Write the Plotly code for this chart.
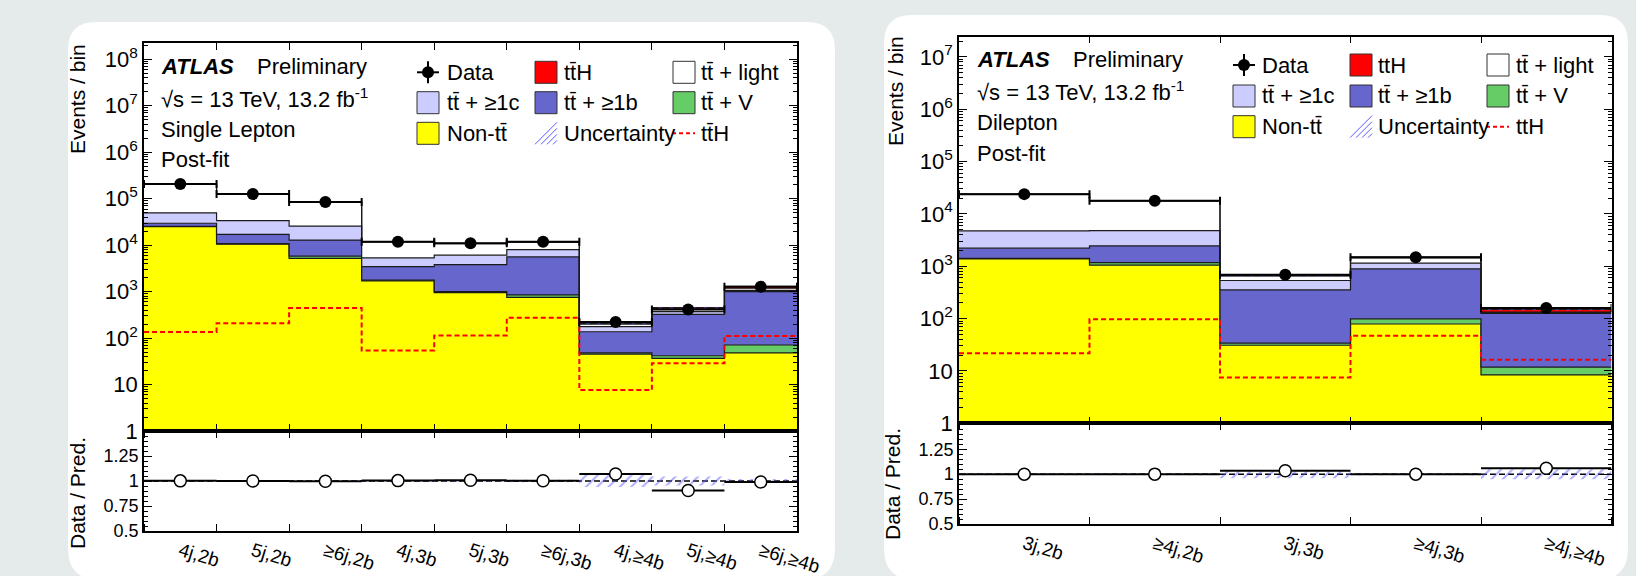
import plotly.graph_objects as go

W, H = 1636, 576

# ---------------- data: single lepton (left) ----------------
sl_bins = ["4j,2b", "5j,2b", "≥6j,2b", "4j,3b", "5j,3b", "≥6j,3b", "4j,≥4b", "5j,≥4b", "≥6j,≥4b"]
sl_data = [207000, 126000, 85000, 11900, 11000, 11900, 222, 410, 1280]
sl_nontt = [25000, 10500, 5200, 1700, 950, 750, 45, 36.7, 48]
sl_ttv = [300, 300, 600, 60, 50, 100, 3, 5, 23]
sl_ttb = [4300, 6200, 7100, 1690, 2800, 4750, 89, 283, 930]
sl_ttc = [20000, 16700, 12800, 1850, 2300, 2400, 39, 45, 60]
sl_ttlight = [157000, 92000, 59000, 6500, 4700, 3600, 24, 55, 120]
sl_tth = [135, 208, 443, 54, 114, 275, 7.6, 28.6, 111]
sl_unc = [0.005, 0.005, 0.006, 0.01, 0.01, 0.012, 0.06, 0.045, 0.02]

# ---------------- data: dilepton (right) ----------------
dl_bins = ["3j,2b", "≥4j,2b", "3j,3b", "≥4j,3b", "≥4j,≥4b"]
dl_data = [23900, 17800, 686, 1490, 159]
dl_nontt = [1380, 1050, 31, 79, 8.4]
dl_ttv = [30, 120, 3, 20, 3.4]
dl_ttb = [810, 1280, 321, 791, 114]
dl_ttc = [2530, 2350, 180, 260, 4]
dl_ttlight = [19130, 12900, 121, 293, 4]
dl_tth = [21.8, 97, 7.5, 47, 16.3]
dl_unc = [0.01, 0.01, 0.04, 0.012, 0.05]

C_NONTT = "#ffff00"
C_TTV = "#66cc66"
C_TTB = "#6666cc"
C_TTC = "#ccccff"
C_LIGHT = "#ffffff"
C_TTH = "#ff0000"
C_UNC = "#5a5aff"
BG = "#e4ebea"
FONT = "Liberation Sans, Arial, sans-serif"
TT = "tt\u0304"


def X(px):
    return px / W


def Y(py):
    return 1 - py / H


fig = go.Figure()


def step(v):
    v = list(v)
    return v + [v[-1]]


HATCH = dict(shape="/", fgcolor=C_UNC, bgcolor="rgba(0,0,0,0)", size=8, solidity=0.25)


def add_panel(bins, data, comps, tth, unc, xa, ya, xr, yr):
    n = len(bins)
    edges = list(range(n + 1))
    centers = [i + 0.5 for i in range(n)]
    common = dict(xaxis=xa, yaxis=ya, showlegend=False, hoverinfo="skip")
    fig.add_trace(go.Scatter(x=edges, y=[1] * (n + 1), mode="lines",
                             line=dict(width=0, shape="hv"), **common))
    cum = [0.0] * n
    for comp, col in zip(comps + [tth], [C_NONTT, C_TTV, C_TTB, C_TTC, C_LIGHT, C_TTH]):
        cum = [c + v for c, v in zip(cum, comp)]
        fig.add_trace(go.Scatter(x=edges, y=step(cum), mode="lines",
                                 line=dict(color="#1a1a1a", width=1.2, shape="hv"),
                                 fill="tonexty", fillcolor=col, **common))
    total = cum
    lo = [t * (1 - u) for t, u in zip(total, unc)]
    hi = [t * (1 + u) for t, u in zip(total, unc)]
    fig.add_trace(go.Scatter(x=edges, y=step(lo), mode="lines",
                             line=dict(width=0, shape="hv"), **common))
    fig.add_trace(go.Scatter(x=edges, y=step(hi), mode="lines",
                             line=dict(width=0, shape="hv"), fill="tonexty",
                             fillcolor="rgba(0,0,0,0)", fillpattern=HATCH, **common))
    fig.add_trace(go.Scatter(x=edges, y=step(tth), mode="lines",
                             line=dict(color="#ff0000", width=2, dash="5px,3px", shape="hv"),
                             **common))
    fig.add_trace(go.Scatter(x=centers, y=data, mode="markers",
                             marker=dict(color="black", size=12),
                             error_x=dict(type="constant", value=0.5, color="black",
                                          thickness=2, width=4),
                             **common))
    rc = dict(xaxis=xr, yaxis=yr, showlegend=False, hoverinfo="skip")
    fig.add_trace(go.Scatter(x=[edges[0], edges[-1]], y=[1, 1], mode="lines",
                             line=dict(color="black", width=1.5, dash="6px,3px"), **rc))
    fig.add_trace(go.Scatter(x=edges, y=step([1 - u for u in unc]), mode="lines",
                             line=dict(width=0, shape="hv"), **rc))
    fig.add_trace(go.Scatter(x=edges, y=step([1 + u for u in unc]), mode="lines",
                             line=dict(width=0, shape="hv"), fill="tonexty",
                             fillcolor="rgba(0,0,0,0)", fillpattern=HATCH, **rc))
    ratio = [d / t for d, t in zip(data, total)]
    fig.add_trace(go.Scatter(x=centers, y=ratio, mode="markers",
                             marker=dict(color="white", size=12, line=dict(color="black", width=1.5)),
                             error_x=dict(type="constant", value=0.5, color="black",
                                          thickness=2, width=0),
                             **rc))


add_panel(sl_bins, sl_data, [sl_nontt, sl_ttv, sl_ttb, sl_ttc, sl_ttlight], sl_tth, sl_unc,
          "x", "y", "x2", "y2")
add_panel(dl_bins, dl_data, [dl_nontt, dl_ttv, dl_ttb, dl_ttc, dl_ttlight], dl_tth, dl_unc,
          "x3", "y3", "x4", "y4")

LINE = dict(showline=True, linecolor="black", linewidth=1.5, mirror="ticks",
            showgrid=False, zeroline=False, automargin=False)


def main_x(n, dom):
    return dict(domain=dom, range=[0, n], tickmode="array", tickvals=list(range(n + 1)),
                ticks="inside", ticklen=7, tickcolor="black", showticklabels=False, **LINE)


def ratio_x(bins, dom):
    n = len(bins)
    return dict(domain=dom, range=[0, n], tickmode="array",
                tickvals=[i + 0.5 for i in range(n)], ticktext=bins, ticks="",
                tickangle=17, tickfont=dict(family=FONT, size=19, color="black"),
                minor=dict(tickmode="array", tickvals=list(range(n + 1)), ticks="inside",
                           ticklen=7, tickcolor="black"), **LINE)


def main_y(top_exp, rng, dom):
    vals = [10 ** k for k in range(0, top_exp + 1)]
    txt = ["1", "10"] + ["10<sup>%d</sup>" % k for k in range(2, top_exp + 1)]
    minors = [m * 10 ** k for k in range(0, top_exp + 1) for m in range(2, 10)]
    return dict(domain=dom, type="log", range=rng, tickmode="array", tickvals=vals, ticktext=txt,
                ticks="inside", ticklen=8, tickcolor="black",
                tickfont=dict(family=FONT, size=22, color="black"),
                minor=dict(tickmode="array", tickvals=minors, ticks="inside", ticklen=4,
                           tickcolor="black"), **LINE)


def ratio_y(rng, dom):
    return dict(domain=dom, range=rng, tickmode="array", tickvals=[0.5, 0.75, 1, 1.25],
                ticktext=["0.5", "0.75", "1", "1.25"], ticks="inside", ticklen=8,
                tickcolor="black", tickfont=dict(family=FONT, size=18, color="black"),
                minor=dict(tickmode="array", tickvals=[0.55, 0.6, 0.65, 0.7, 0.8, 0.85, 0.9,
                                                       0.95, 1.05, 1.1, 1.15, 1.2, 1.3, 1.35,
                                                       1.4, 1.45],
                           ticks="inside", ticklen=4, tickcolor="black"), **LINE)


L_x = [X(144), X(797)]
R_x = [X(959), X(1611.5)]

fig.update_layout(
    xaxis=dict(anchor="y", **main_x(len(sl_bins), L_x)),
    yaxis=dict(anchor="x", **main_y(8, [0, 8.345], [Y(431), Y(43.3)])),
    xaxis2=dict(anchor="y2", **ratio_x(sl_bins, L_x)),
    yaxis2=dict(anchor="x2", **ratio_y([0.5, 1.5], [Y(531), Y(431)])),
    xaxis3=dict(anchor="y3", **main_x(len(dl_bins), R_x)),
    yaxis3=dict(anchor="x3", **main_y(7, [0, 7.39], [Y(423.3), Y(36.5)])),
    xaxis4=dict(anchor="y4", **ratio_x(dl_bins, R_x)),
    yaxis4=dict(anchor="x4", **ratio_y([0.5, 1.51], [Y(524), Y(423.3)])),
)


def rounded(x0, y0, x1, y1, r0, r1):
    pts = [
        ("M", [(x0 + r0, y0)]), ("L", [(x1 - r0, y0)]), ("Q", [(x1, y0), (x1, y0 + r0)]),
        ("L", [(x1, y1 - r1)]), ("Q", [(x1, y1), (x1 - r1, y1)]), ("L", [(x0 + r1, y1)]),
        ("Q", [(x0, y1), (x0, y1 - r1)]), ("L", [(x0, y0 + r0)]), ("Q", [(x0, y0), (x0 + r0, y0)]),
    ]
    s = ""
    for cmd, ps in pts:
        s += cmd + " " + " ".join("%.5f,%.5f" % (X(a), Y(b)) for a, b in ps) + " "
    return s + "Z"


shapes = [
    dict(type="path", path=rounded(68, 22, 835, 580, 28, 32), xref="paper", yref="paper",
         fillcolor="white", line=dict(width=0), layer="below"),
    dict(type="path", path=rounded(884, 15, 1628, 580, 28, 32), xref="paper", yref="paper",
         fillcolor="white", line=dict(width=0), layer="below"),
]
annotations = []


def text(x, y, s, size=22, xanchor="left", yanchor="middle", angle=0):
    annotations.append(dict(x=X(x), y=Y(y), xref="paper", yref="paper", text=s, showarrow=False,
                            xanchor=xanchor, yanchor=yanchor, textangle=angle,
                            font=dict(family=FONT, size=size, color="black")))


def labels(x0, xprelim, ys, chan):
    text(x0, ys[0], "<b><i>ATLAS</i></b>")
    text(xprelim, ys[0], "Preliminary")
    text(x0, ys[1], "√s = 13 TeV, 13.2 fb<sup>-1</sup>")
    text(x0, ys[2], chan)
    text(x0, ys[3], "Post-fit")


labels(159, 255, [67, 98, 129, 159], "Single Lepton")
labels(975, 1071, [60, 91, 122, 153], "Dilepton")

text(78, 42, "Events / bin", size=21, xanchor="center", yanchor="top", angle=-90)
text(77, 435, "Data / Pred.", size=21, xanchor="center", yanchor="top", angle=-90)
text(895, 34, "Events / bin", size=21, xanchor="center", yanchor="top", angle=-90)
text(892, 426, "Data / Pred.", size=21, xanchor="center", yanchor="top", angle=-90)


def legend(rows, boxes, texts, tth_label):
    s = 22
    h = s / 2

    def box(col, row, color):
        shapes.append(dict(type="rect", xref="paper", yref="paper",
                           x0=X(boxes[col]), x1=X(boxes[col] + s),
                           y0=Y(rows[row] + h), y1=Y(rows[row] - h),
                           fillcolor=color, line=dict(color="#333333", width=1), layer="above"))

    cx, cy = boxes[0] + h, rows[0]
    shapes.append(dict(type="line", xref="paper", yref="paper", x0=X(cx - 11), x1=X(cx + 11),
                       y0=Y(cy), y1=Y(cy), line=dict(color="black", width=2)))
    shapes.append(dict(type="line", xref="paper", yref="paper", x0=X(cx), x1=X(cx),
                       y0=Y(cy - 11), y1=Y(cy + 11), line=dict(color="black", width=2)))
    shapes.append(dict(type="circle", xref="paper", yref="paper", x0=X(cx - 6), x1=X(cx + 6),
                       y0=Y(cy + 6), y1=Y(cy - 6), fillcolor="black", line=dict(width=0)))
    text(texts[0], rows[0], "Data")
    box(1, 0, C_TTH)
    text(texts[1], rows[0], tth_label)
    box(2, 0, C_LIGHT)
    text(texts[2], rows[0], TT + " + light")
    box(0, 1, C_TTC)
    text(texts[0], rows[1], TT + " + ≥1c")
    box(1, 1, C_TTB)
    text(texts[1], rows[1], TT + " + ≥1b")
    box(2, 1, C_TTV)
    text(texts[2], rows[1], TT + " + V")
    box(0, 2, C_NONTT)
    text(texts[0], rows[2], "Non-" + TT)
    bx, by = boxes[1], rows[2]
    for k in range(4):
        off = k * 6
        shapes.append(dict(type="line", xref="paper", yref="paper",
                           x0=X(bx + off), y0=Y(by + h),
                           x1=X(bx + s), y1=Y(by + h - (s - off)),
                           line=dict(color=C_UNC, width=1)))
    text(texts[1], rows[2], "Uncertainty")
    shapes.append(dict(type="line", xref="paper", yref="paper", x0=X(boxes[2] - 1),
                       x1=X(boxes[2] + s), y0=Y(rows[2]), y1=Y(rows[2]),
                       line=dict(color="#ff0000", width=2, dash="4px,3px")))
    text(texts[2], rows[2], tth_label)


legend([72.3, 102.7, 133.3], [417, 535, 673], [445, 562, 699], TT + "H")
legend([65, 96, 126.7], [1233, 1350, 1487], [1260, 1376, 1514], "ttH")

fig.update_layout(
    width=W, height=H, margin=dict(l=0, r=0, t=0, b=0, pad=0, autoexpand=False),
    paper_bgcolor=BG, plot_bgcolor="rgba(0,0,0,0)",
    shapes=shapes, annotations=annotations, showlegend=False,
    font=dict(family=FONT, color="black"),
)

fig.write_html("out.html")
